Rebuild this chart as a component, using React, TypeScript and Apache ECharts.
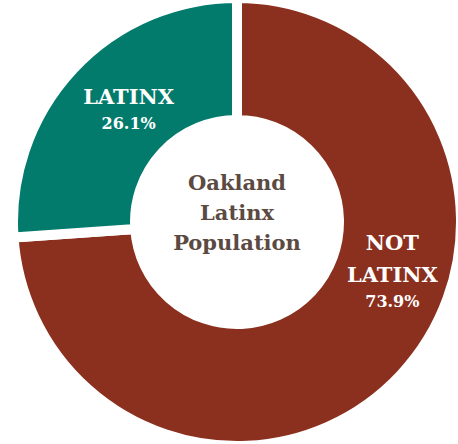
import React, { useEffect, useRef } from "react";
import * as echarts from "echarts";

const categories = ["NOT LATINX", "LATINX"];
const values = [73.9, 26.1];
const colors = ["#8B2F1E", "#037B6C"];
const centerTitle = ["Oakland", "Latinx", "Population"];

const FONT = "'DejaVu Serif', 'Liberation Serif', serif";

export default function App() {
  const ref = useRef<HTMLDivElement>(null);
  useEffect(() => {
    if (!ref.current) return;
    const chart = echarts.init(ref.current, null, { renderer: "svg" });
    const labelShift = [
      { dx: 34, dy: -66 },
      { dx: 13, dy: -1 },
    ];
    chart.setOption({
      animation: false,
      backgroundColor: "#ffffff",
      graphic: [
        {
          type: "text",
          x: 237,
          y: 212,
          style: {
            text: centerTitle.join("\n"),
            fill: "#5B4A42",
            font: `bold 21px ${FONT}`,
            lineHeight: 30,
            align: "center",
            verticalAlign: "middle",
          },
        },
      ],
      series: [
        {
          type: "pie",
          center: [237, 222],
          radius: [102, 224],
          startAngle: 90,
          clockwise: true,
          silent: true,
          itemStyle: { borderColor: "#ffffff", borderWidth: 10 },
          label: {
            show: true,
            position: "inside",
            color: "#ffffff",
            fontFamily: FONT,
            formatter: (p: any) => {
              const words = String(p.name).split(" ");
              return words.map((w) => `{a|${w}}`).join("\n") + `\n{b|${p.value}%}`;
            },
            rich: {
              a: { fontFamily: FONT, fontSize: 21, fontWeight: "bold", color: "#ffffff", lineHeight: 32 },
              b: { fontFamily: FONT, fontSize: 16, fontWeight: "bold", color: "#ffffff", lineHeight: 22 },
            },
          },
          labelLine: { show: false },
          labelLayout: (params: any) => labelShift[params.dataIndex],
          data: categories.map((name, i) => ({
            name,
            value: values[i],
            itemStyle: { color: colors[i] },
          })),
        },
      ],
    });
    return () => chart.dispose();
  }, []);
  return (
    <div
      ref={ref}
      style={{ position: "fixed", left: 0, top: 0, width: 458, height: 444 }}
    />
  );
}
